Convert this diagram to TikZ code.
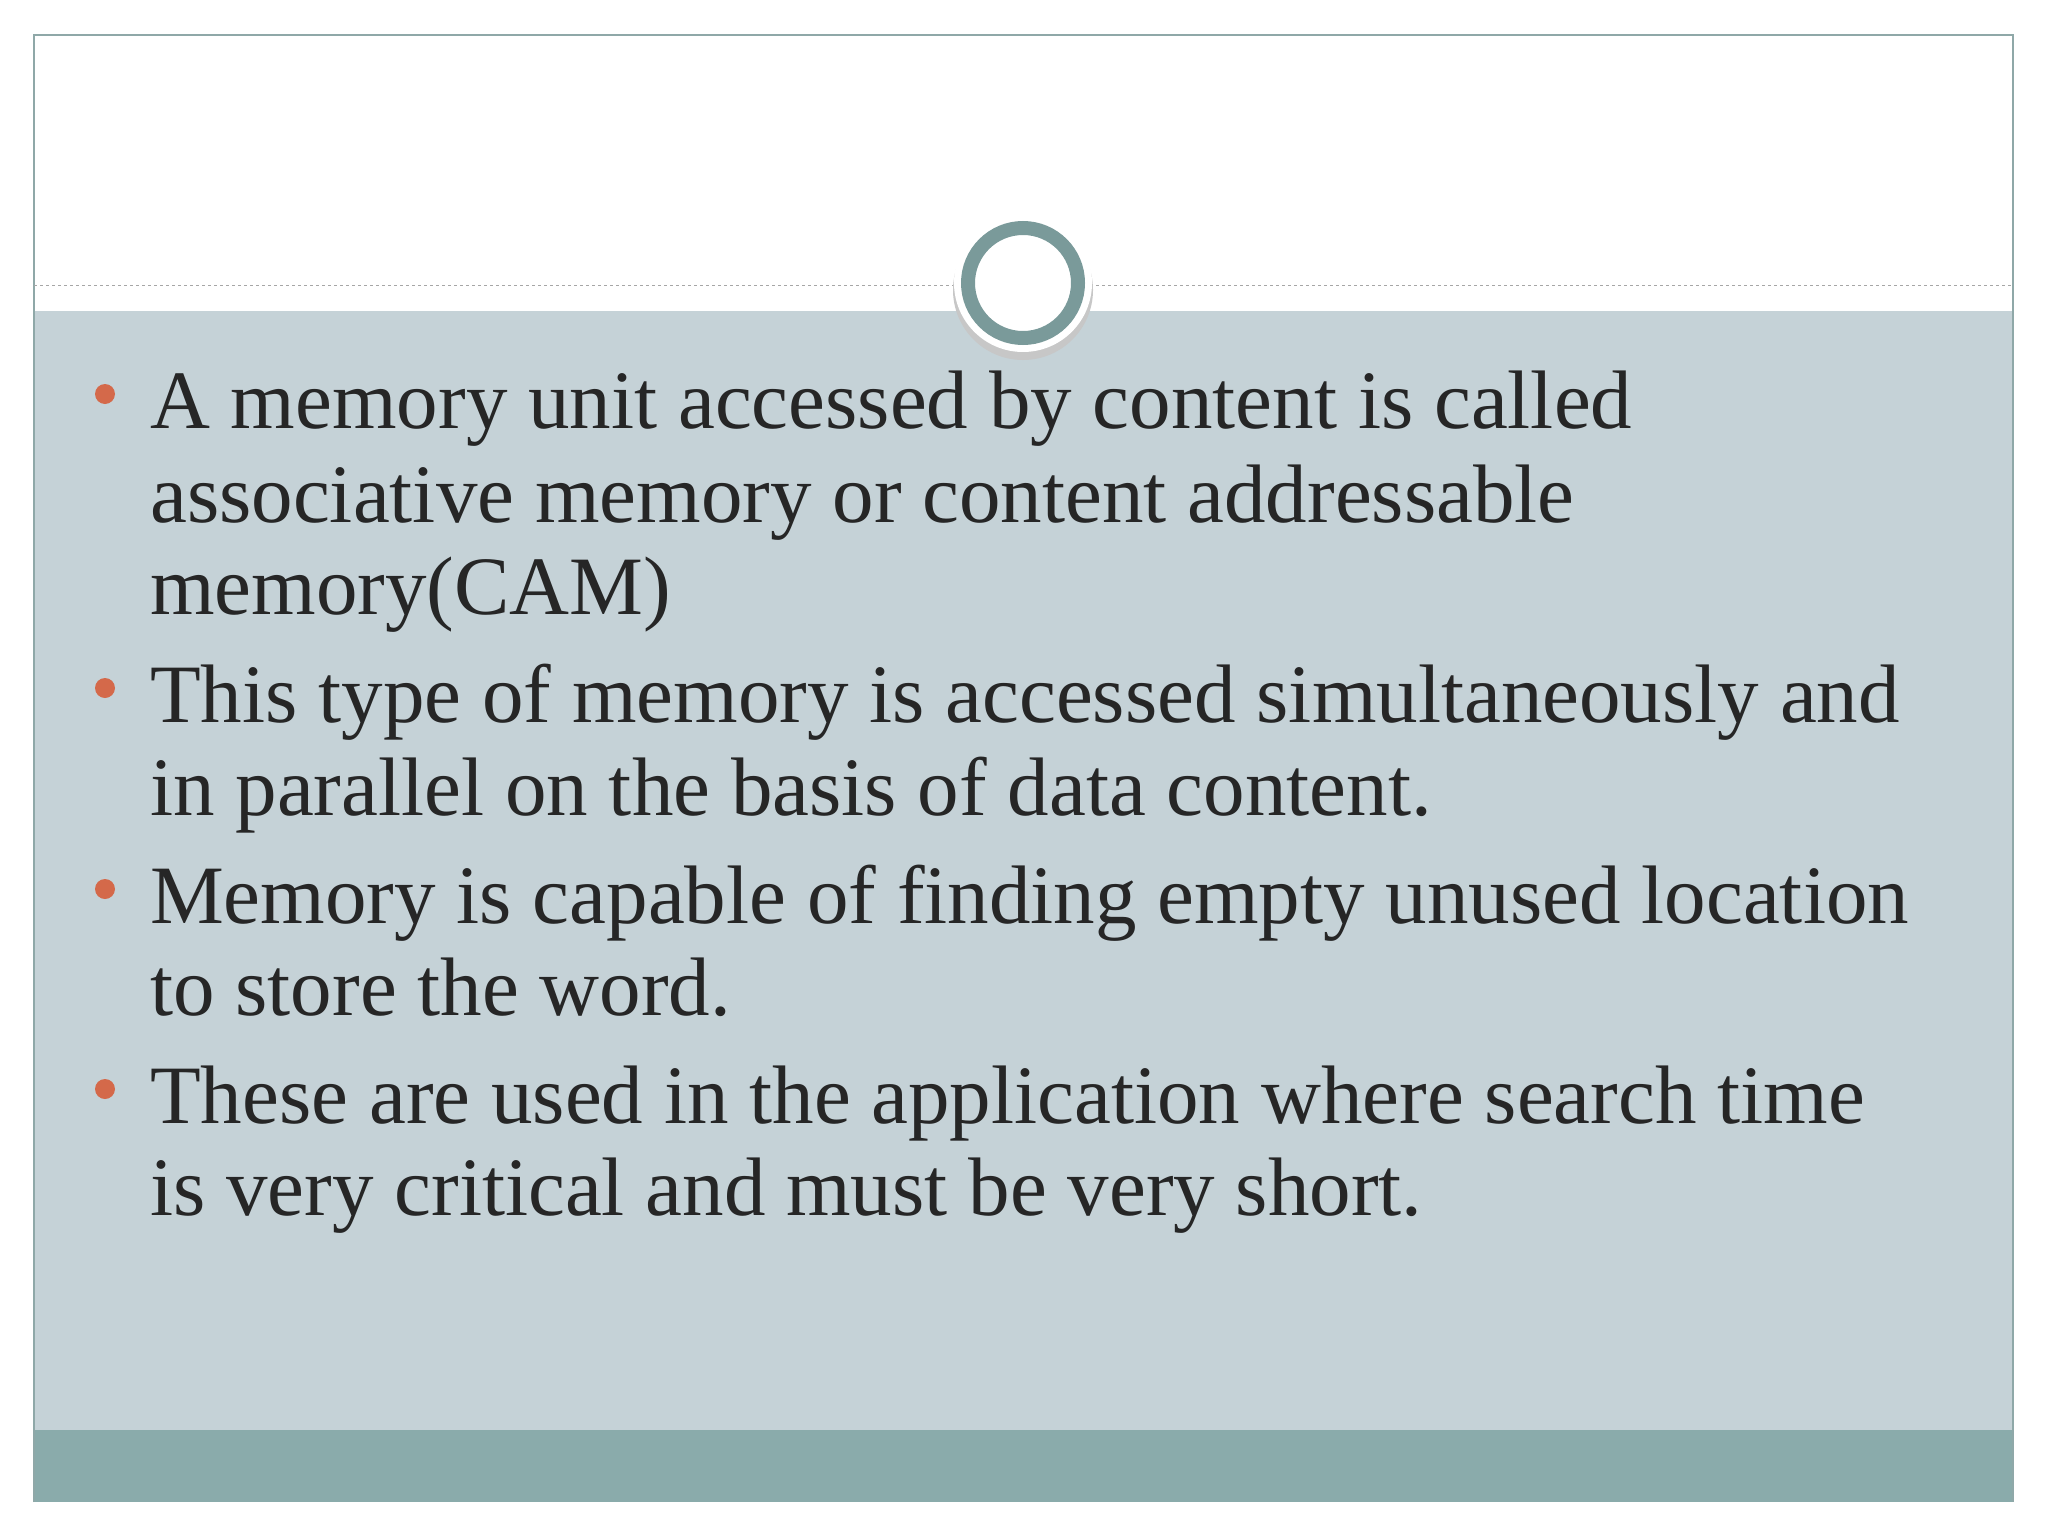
\documentclass[tikz,border=0pt]{standalone}
\usepackage{fontspec}
\setmainfont{Liberation Serif}
\definecolor{bodyc}{HTML}{C5D2D7}
\definecolor{bandc}{HTML}{8AABAB}
\definecolor{ringc}{HTML}{7A9A9A}
\definecolor{bulc}{HTML}{D4694A}
\definecolor{framec}{HTML}{8FA8A8}
\begin{document}
\begin{tikzpicture}[x=1pt,y=-1pt,
  txt/.style={anchor=base west,inner sep=0pt,font=\fontsize{83}{94}\selectfont,text=black!85},
  bul/.style={circle,fill=bulc,inner sep=0pt,minimum size=20pt}]
\useasboundingbox (0,0) rectangle (2048,1536);
\fill[white] (0,0) rectangle (2048,1536);
\fill[bodyc] (34,311) rectangle (2013,1430);
\fill[bandc] (34,1430) rectangle (2013,1502);
\draw[framec,line width=1.5pt] (34,1502) -- (34,35) -- (2013,35) -- (2013,1502);
\draw[gray!70,dashed,line width=1pt] (34,285) -- (2013,285);
\fill[black!22] (1023,290) circle (70);
\fill[white] (1023,283) circle (69);
\draw[ringc,line width=14pt] (1023,283) circle (55);
\node[txt] (t1a) at (150,428) {A memory unit accessed by content is called};
\node[txt] (t1b) at (150,522) {associative memory or content addressable};
\node[txt] (t1c) at (150,614) {memory(CAM)};
\node[txt] (t2a) at (150,722) {This type of memory is accessed simultaneously and};
\node[txt] (t2b) at (150,815) {in parallel on the basis of data content.};
\node[txt] (t3a) at (150,923) {Memory is capable of finding empty unused location};
\node[txt] (t3b) at (150,1015) {to store the word.};
\node[txt] (t4a) at (150,1123) {These are used in the application where search time};
\node[txt] (t4b) at (150,1215) {is very critical and must be very short.};
\node[bul] (b1) at (105,394) {};
\node[bul] (b2) at (105,688) {};
\node[bul] (b3) at (105,889) {};
\node[bul] (b4) at (105,1089) {};
\end{tikzpicture}
\end{document}
